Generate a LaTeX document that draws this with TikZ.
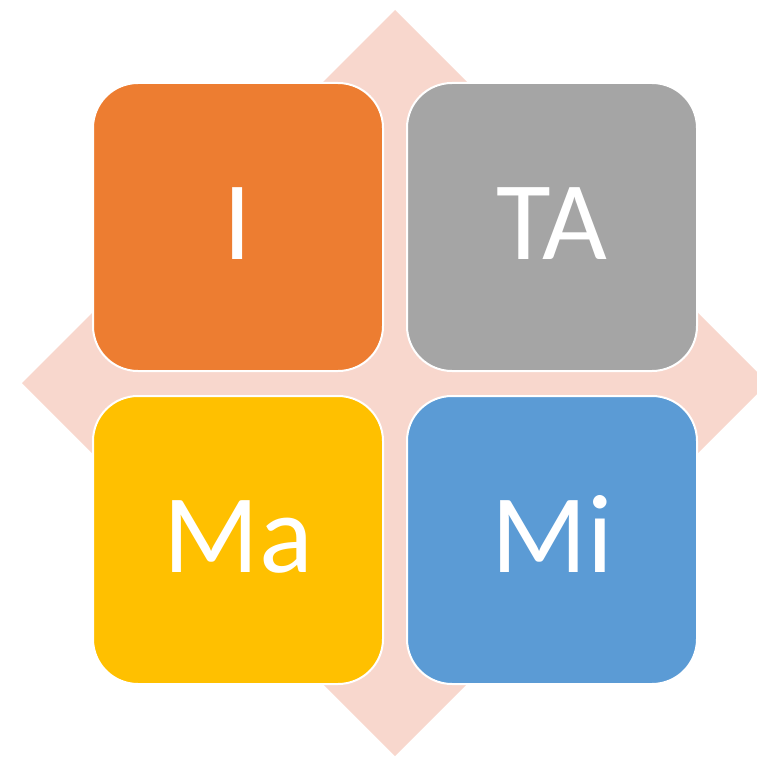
\documentclass[tikz,border=0pt]{standalone}
\usepackage{fontspec}
\setmainfont{Carlito}
\usetikzlibrary{positioning}

\definecolor{diamondpink}{HTML}{F8D7CD}
\definecolor{quadorange}{HTML}{ED7D31}
\definecolor{quadgray}{HTML}{A5A5A5}
\definecolor{quadyellow}{HTML}{FFC000}
\definecolor{quadblue}{HTML}{5B9BD5}

\tikzset{
  quad/.style={rectangle,draw=white,line width=2pt,rounded corners=45pt,
    minimum width=290pt,minimum height=288pt,text=white,
    font=\fontsize{112}{120}\selectfont,text height=64pt,text depth=0pt}
}

\begin{document}
\begin{tikzpicture}[x=1pt,y=-1pt]
\useasboundingbox (0,0) rectangle (757,757);

% background diamond
\fill[diamondpink] (395,10) -- (768,383) -- (395,756) -- (22,383) -- cycle;

% quadrants
\node[quad,fill=quadorange] at (238,227) (quadI) {I};
\node[quad,fill=quadgray,right=22pt of quadI] (quadTA) {TA};
\node[quad,fill=quadyellow,below=23pt of quadI] (quadMa) {Ma};
\node[quad,fill=quadblue,right=22pt of quadMa] (quadMi) {Mi};

\end{tikzpicture}
\end{document}
